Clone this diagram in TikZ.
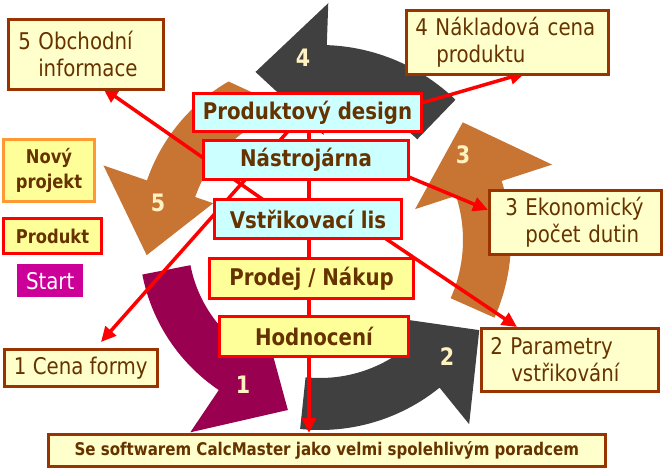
\documentclass[tikz,border=0pt]{standalone}
\usepackage{fontspec}
\setmainfont[FakeStretch=0.86]{DejaVu Sans}
\usetikzlibrary{arrows.meta,calc}
\definecolor{txtbrown}{HTML}{663300}
\definecolor{boxbrown}{HTML}{993300}
\definecolor{creamfill}{HTML}{FFFFCC}
\definecolor{yellfill}{HTML}{FFFF99}
\definecolor{cyanfill}{HTML}{CCFFFF}
\definecolor{redline}{HTML}{FF0000}
\definecolor{maroonarr}{HTML}{990050}
\definecolor{brownarr}{HTML}{C87533}
\definecolor{darkarr}{HTML}{404040}
\definecolor{numcream}{HTML}{FFF2C0}
\definecolor{magstart}{HTML}{CC0099}
\definecolor{orangeb}{HTML}{FF9933}
\begin{document}
\begin{tikzpicture}[x=1pt,y=-1pt,
  infobox/.style={draw=boxbrown, line width=2.5pt, fill=creamfill, anchor=north west,
    text=txtbrown, font=\fontsize{23}{27}\selectfont, align=left, inner ysep=0pt},
  centerbox/.style={draw=redline, line width=3pt, anchor=north west, text=txtbrown,
    font=\bfseries\fontsize{23}{27}\selectfont, inner sep=0pt},
  sidebox/.style={line width=3pt, fill=yellfill, anchor=north west, text=txtbrown,
    font=\bfseries\fontsize{19}{25}\selectfont, align=center, inner sep=0pt},
  redarrow/.style={draw=redline, line width=3.5pt, -{Triangle[length=15pt,width=14pt]}},
  num/.style={text=numcream, font=\bfseries\fontsize{24}{27}\selectfont, inner sep=0pt}]
\fill[white] (0,0) rectangle (664,471);
\useasboundingbox (0,0) rectangle (664,471);
\coordinate (C) at (320,240);
% ring arrows
\fill[maroonarr] ($(C)+(169:181)$) arc[start angle=169,end angle=124,radius=181]
  -- ($(C)+(124:232)$) -- ($(C)+(100.7:173)$) -- ($(C)+(124:100)$) -- ($(C)+(124:132)$)
  arc[start angle=124,end angle=169,radius=132] -- cycle;
\fill[darkarr] ($(C)+(96:190)$) arc[start angle=96,end angle=51,radius=190]
  -- ($(C)+(51:237)$) -- ($(C)+(29.5:183)$) -- ($(C)+(51:98)$) -- ($(C)+(51:138)$)
  arc[start angle=51,end angle=96,radius=138] -- cycle;
\fill[brownarr] ($(C)+(24:191)$) arc[start angle=24,end angle=-18,radius=191]
  -- ($(C)+(-18:244)$) -- ($(C)+(-39.5:185)$) -- ($(C)+(-18:100)$) -- ($(C)+(-18:143)$)
  arc[start angle=-18,end angle=24,radius=143] -- cycle;
\fill[darkarr] ($(C)+(314:195)$) arc[start angle=314,end angle=272,radius=195]
  -- ($(C)+(272:237)$) -- ($(C)+(249:180)$) -- ($(C)+(272:105)$) -- ($(C)+(272:140)$)
  arc[start angle=272,end angle=314,radius=140] -- cycle;
\fill[brownarr] ($(C)+(240:183)$) arc[start angle=240,end angle=199,radius=183]
  -- ($(C)+(199:229)$) -- ($(C)+(175:174)$) -- ($(C)+(199:113)$) -- ($(C)+(199:132)$)
  arc[start angle=199,end angle=258,radius=132] -- cycle;
\node[num] (n1) at (243,385) {1};
\node[num] (n2) at (447,357) {2};
\node[num] (n3) at (463,155) {3};
\node[num] (n4) at (303,58) {4};
\node[num] (n5) at (158,203) {5};
% line start points (hidden inside the source boxes)
\coordinate (aS) at (288,217);
\coordinate (cS) at (408,107);
\coordinate (dS) at (380,165);
\coordinate (eS) at (355,218);
\coordinate (bS) at (306,111);
\coordinate (tS) at (309,111);
% line end points (on the target boxes)
\coordinate (aE) at (103,88);
\coordinate (bE) at (101,342);
\coordinate (cE) at (525,73);
\coordinate (dE) at (488,210);
\coordinate (eE) at (517,327);
\coordinate (tE) at (309,433);
\draw[redarrow] (aS) -- (aE);
\draw[redarrow] (bS) -- (bE);
\draw[redarrow] (cS) -- (cE);
\draw[redarrow] (dS) -- (dE);
\draw[redarrow] (eS) -- (eE);
\draw[redarrow] (tS) -- (tE);
% info boxes
\node[infobox, minimum width=155pt, minimum height=70pt, text width=135pt, inner xsep=10pt] (obch) at (7,18)
  {5 Obchodní\\\hspace*{20pt}informace};
\node[infobox, minimum width=202pt, minimum height=64pt, text width=184pt, inner xsep=9pt] (nakl) at (405,9)
  {4 Nákladová cena\\\hspace*{21pt}produktu};
\node[infobox, minimum width=172pt, minimum height=64pt, text width=140pt, inner xsep=16pt] (ekon) at (488,189)
  {3 Ekonomický\\\hspace*{20pt}počet dutin};
\node[infobox, minimum width=177pt, minimum height=63pt, text width=159pt, inner xsep=9pt] (param) at (480,327)
  {2 Parametry\\\hspace*{21pt}vstřikování};
\node[infobox, minimum width=153pt, minimum height=37pt, inner xsep=0pt, align=center] (cena) at (3,348)
  {1 Cena formy};
% side boxes
\node[sidebox, draw=orangeb, minimum width=91pt, minimum height=62pt] (novy) at (2,138) {Nový\\projekt};
\node[sidebox, draw=redline, minimum width=98pt, minimum height=35pt] (produkt) at (2,217) {Produkt};
\node[fill=magstart, anchor=north west, minimum width=66pt, minimum height=33pt, inner sep=0pt,
  text=white, font=\fontsize{23}{27}\selectfont] (start) at (17,264) {Start};
% center column
\node[centerbox, fill=cyanfill, minimum width=228pt, minimum height=38pt] (design) at (192,92) {Produktový design};
\node[centerbox, fill=cyanfill, minimum width=205pt, minimum height=39pt] (nastroj) at (202,139) {Nástrojárna};
\node[centerbox, fill=cyanfill, minimum width=187pt, minimum height=39pt] (vstrik) at (213,198) {Vstřikovací lis};
\node[centerbox, fill=yellfill, minimum width=204pt, minimum height=40pt] (prodej) at (208,257) {Prodej / Nákup};
\node[centerbox, fill=yellfill, minimum width=189pt, minimum height=40pt] (hodn) at (218,315) {Hodnocení};
\node[infobox, minimum width=557pt, minimum height=32pt, inner xsep=0pt, align=center,
  font=\bfseries\fontsize{17.5}{20}\selectfont] (banner) at (47,433)
  {Se softwarem CalcMaster jako velmi spolehlivým poradcem};
\end{tikzpicture}
\end{document}
